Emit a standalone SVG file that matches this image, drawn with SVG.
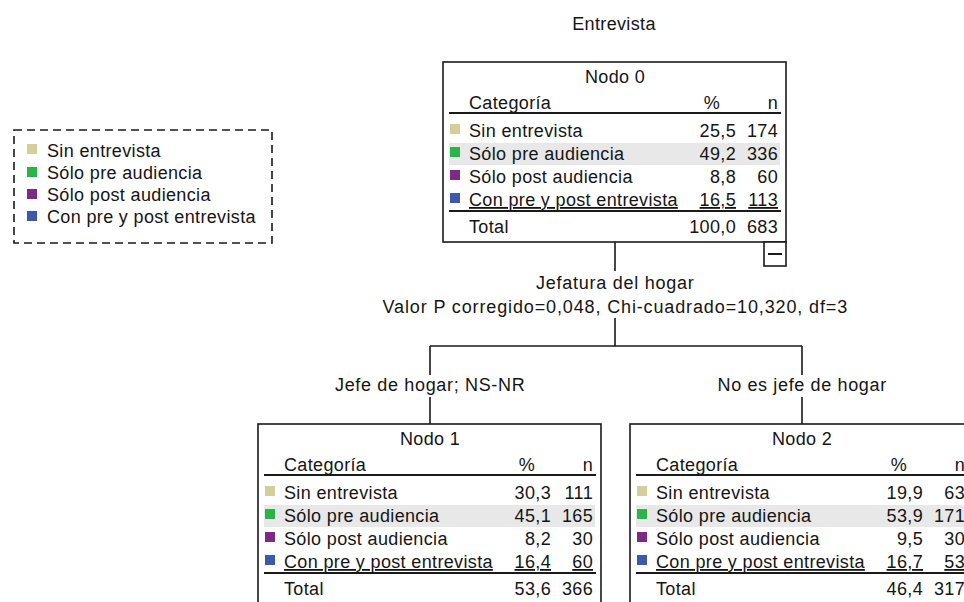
<svg xmlns="http://www.w3.org/2000/svg" width="964" height="602" viewBox="0 0 964 602">
<style>
text{font-family:"Liberation Sans",Arial,sans-serif;font-size:18px;fill:#151515;letter-spacing:0.35px}
.m{text-anchor:middle}
.e{text-anchor:end}
.u{text-decoration:underline}
.box{fill:#fff;stroke:#1a1a1a;stroke-width:1.6}
.rule{stroke:#1a1a1a;stroke-width:2}
.band{fill:#e8e8e8}
.c1{fill:#d3cf9a}
.c2{fill:#2ab54b}
.c3{fill:#7b2a86}
.c4{fill:#3e59ab}
.ln{stroke:#1a1a1a;stroke-width:1.6;fill:none}
</style>
<rect width="964" height="602" fill="#fff"/>
<text x="614" y="30" class="m">Entrevista</text>

<g id="legend">
<rect x="14" y="130" width="258" height="113" fill="none" stroke="#1a1a1a" stroke-width="1.6" stroke-dasharray="8,5"/>
<rect x="27" y="144" width="10" height="10" class="c1"/>
<text x="47" y="157">Sin entrevista</text>
<rect x="27" y="167" width="10" height="10" class="c2"/>
<text x="47" y="179">Sólo pre audiencia</text>
<rect x="27" y="189" width="10" height="10" class="c3"/>
<text x="47" y="201">Sólo post audiencia</text>
<rect x="27" y="211" width="10" height="10" class="c4"/>
<text x="47" y="223">Con pre y post entrevista</text>
</g>

<g id="connectors">
<path class="ln" d="M615 242V271M615 318V346M430 346H802M430 346V375M802 346V375M430 397V424M802 397V424"/>
<text x="615" y="289" class="m" textLength="158">Jefatura del hogar</text>
<text x="615" y="313" class="m" textLength="465">Valor P corregido=0,048, Chi-cuadrado=10,320, df=3</text>
<text x="430" y="391" class="m" textLength="190">Jefe de hogar; NS-NR</text>
<text x="802" y="391" class="m" textLength="169">No es jefe de hogar</text>
</g>

<g id="node0" transform="translate(443,62)">
<rect x="0" y="0" width="343" height="180" class="box"/>
<text x="172" y="21" class="m">Nodo 0</text>
<text x="26" y="47">Categoría</text>
<text x="269" y="47" class="m">%</text>
<text x="335" y="47" class="e">n</text>
<line x1="6" y1="51" x2="338" y2="51" class="rule"/>
<rect x="6" y="81" width="331" height="22" class="band"/>
<rect x="7" y="62" width="10" height="10" class="c1"/>
<text x="26" y="75">Sin entrevista</text><text x="293" y="75" class="e">25,5</text><text x="335" y="75" class="e">174</text>
<rect x="7" y="85" width="10" height="10" class="c2"/>
<text x="26" y="98">Sólo pre audiencia</text><text x="293" y="98" class="e">49,2</text><text x="335" y="98" class="e">336</text>
<rect x="7" y="108" width="10" height="10" class="c3"/>
<text x="26" y="121">Sólo post audiencia</text><text x="293" y="121" class="e">8,8</text><text x="335" y="121" class="e">60</text>
<rect x="7" y="131" width="10" height="10" class="c4"/>
<text x="26" y="144" class="u">Con pre y post entrevista</text><text x="293" y="144" class="e u">16,5</text><text x="335" y="144" class="e u">113</text>
<line x1="6" y1="149" x2="338" y2="149" class="rule"/>
<text x="26" y="171">Total</text><text x="293" y="171" class="e">100,0</text><text x="335" y="171" class="e">683</text>
<rect x="321" y="180" width="22" height="24" class="box"/>
<line x1="325" y1="192" x2="339" y2="192" class="rule"/>
</g>

<g id="node1" transform="translate(258,424)">
<rect x="0" y="0" width="343" height="180" class="box"/>
<text x="172" y="21" class="m">Nodo 1</text>
<text x="26" y="47">Categoría</text>
<text x="269" y="47" class="m">%</text>
<text x="335" y="47" class="e">n</text>
<line x1="6" y1="51" x2="338" y2="51" class="rule"/>
<rect x="6" y="81" width="331" height="22" class="band"/>
<rect x="7" y="62" width="10" height="10" class="c1"/>
<text x="26" y="75">Sin entrevista</text><text x="293" y="75" class="e">30,3</text><text x="335" y="75" class="e">111</text>
<rect x="7" y="85" width="10" height="10" class="c2"/>
<text x="26" y="98">Sólo pre audiencia</text><text x="293" y="98" class="e">45,1</text><text x="335" y="98" class="e">165</text>
<rect x="7" y="108" width="10" height="10" class="c3"/>
<text x="26" y="121">Sólo post audiencia</text><text x="293" y="121" class="e">8,2</text><text x="335" y="121" class="e">30</text>
<rect x="7" y="131" width="10" height="10" class="c4"/>
<text x="26" y="144" class="u">Con pre y post entrevista</text><text x="293" y="144" class="e u">16,4</text><text x="335" y="144" class="e u">60</text>
<line x1="6" y1="149" x2="338" y2="149" class="rule"/>
<text x="26" y="171">Total</text><text x="293" y="171" class="e">53,6</text><text x="335" y="171" class="e">366</text>
</g>

<g id="node2" transform="translate(630,424)">
<rect x="0" y="0" width="343" height="180" class="box"/>
<text x="172" y="21" class="m">Nodo 2</text>
<text x="26" y="47">Categoría</text>
<text x="269" y="47" class="m">%</text>
<text x="335" y="47" class="e">n</text>
<line x1="6" y1="51" x2="338" y2="51" class="rule"/>
<rect x="6" y="81" width="331" height="22" class="band"/>
<rect x="7" y="62" width="10" height="10" class="c1"/>
<text x="26" y="75">Sin entrevista</text><text x="293" y="75" class="e">19,9</text><text x="335" y="75" class="e">63</text>
<rect x="7" y="85" width="10" height="10" class="c2"/>
<text x="26" y="98">Sólo pre audiencia</text><text x="293" y="98" class="e">53,9</text><text x="335" y="98" class="e">171</text>
<rect x="7" y="108" width="10" height="10" class="c3"/>
<text x="26" y="121">Sólo post audiencia</text><text x="293" y="121" class="e">9,5</text><text x="335" y="121" class="e">30</text>
<rect x="7" y="131" width="10" height="10" class="c4"/>
<text x="26" y="144" class="u">Con pre y post entrevista</text><text x="293" y="144" class="e u">16,7</text><text x="335" y="144" class="e u">53</text>
<line x1="6" y1="149" x2="338" y2="149" class="rule"/>
<text x="26" y="171">Total</text><text x="293" y="171" class="e">46,4</text><text x="335" y="171" class="e">317</text>
</g>
</svg>
